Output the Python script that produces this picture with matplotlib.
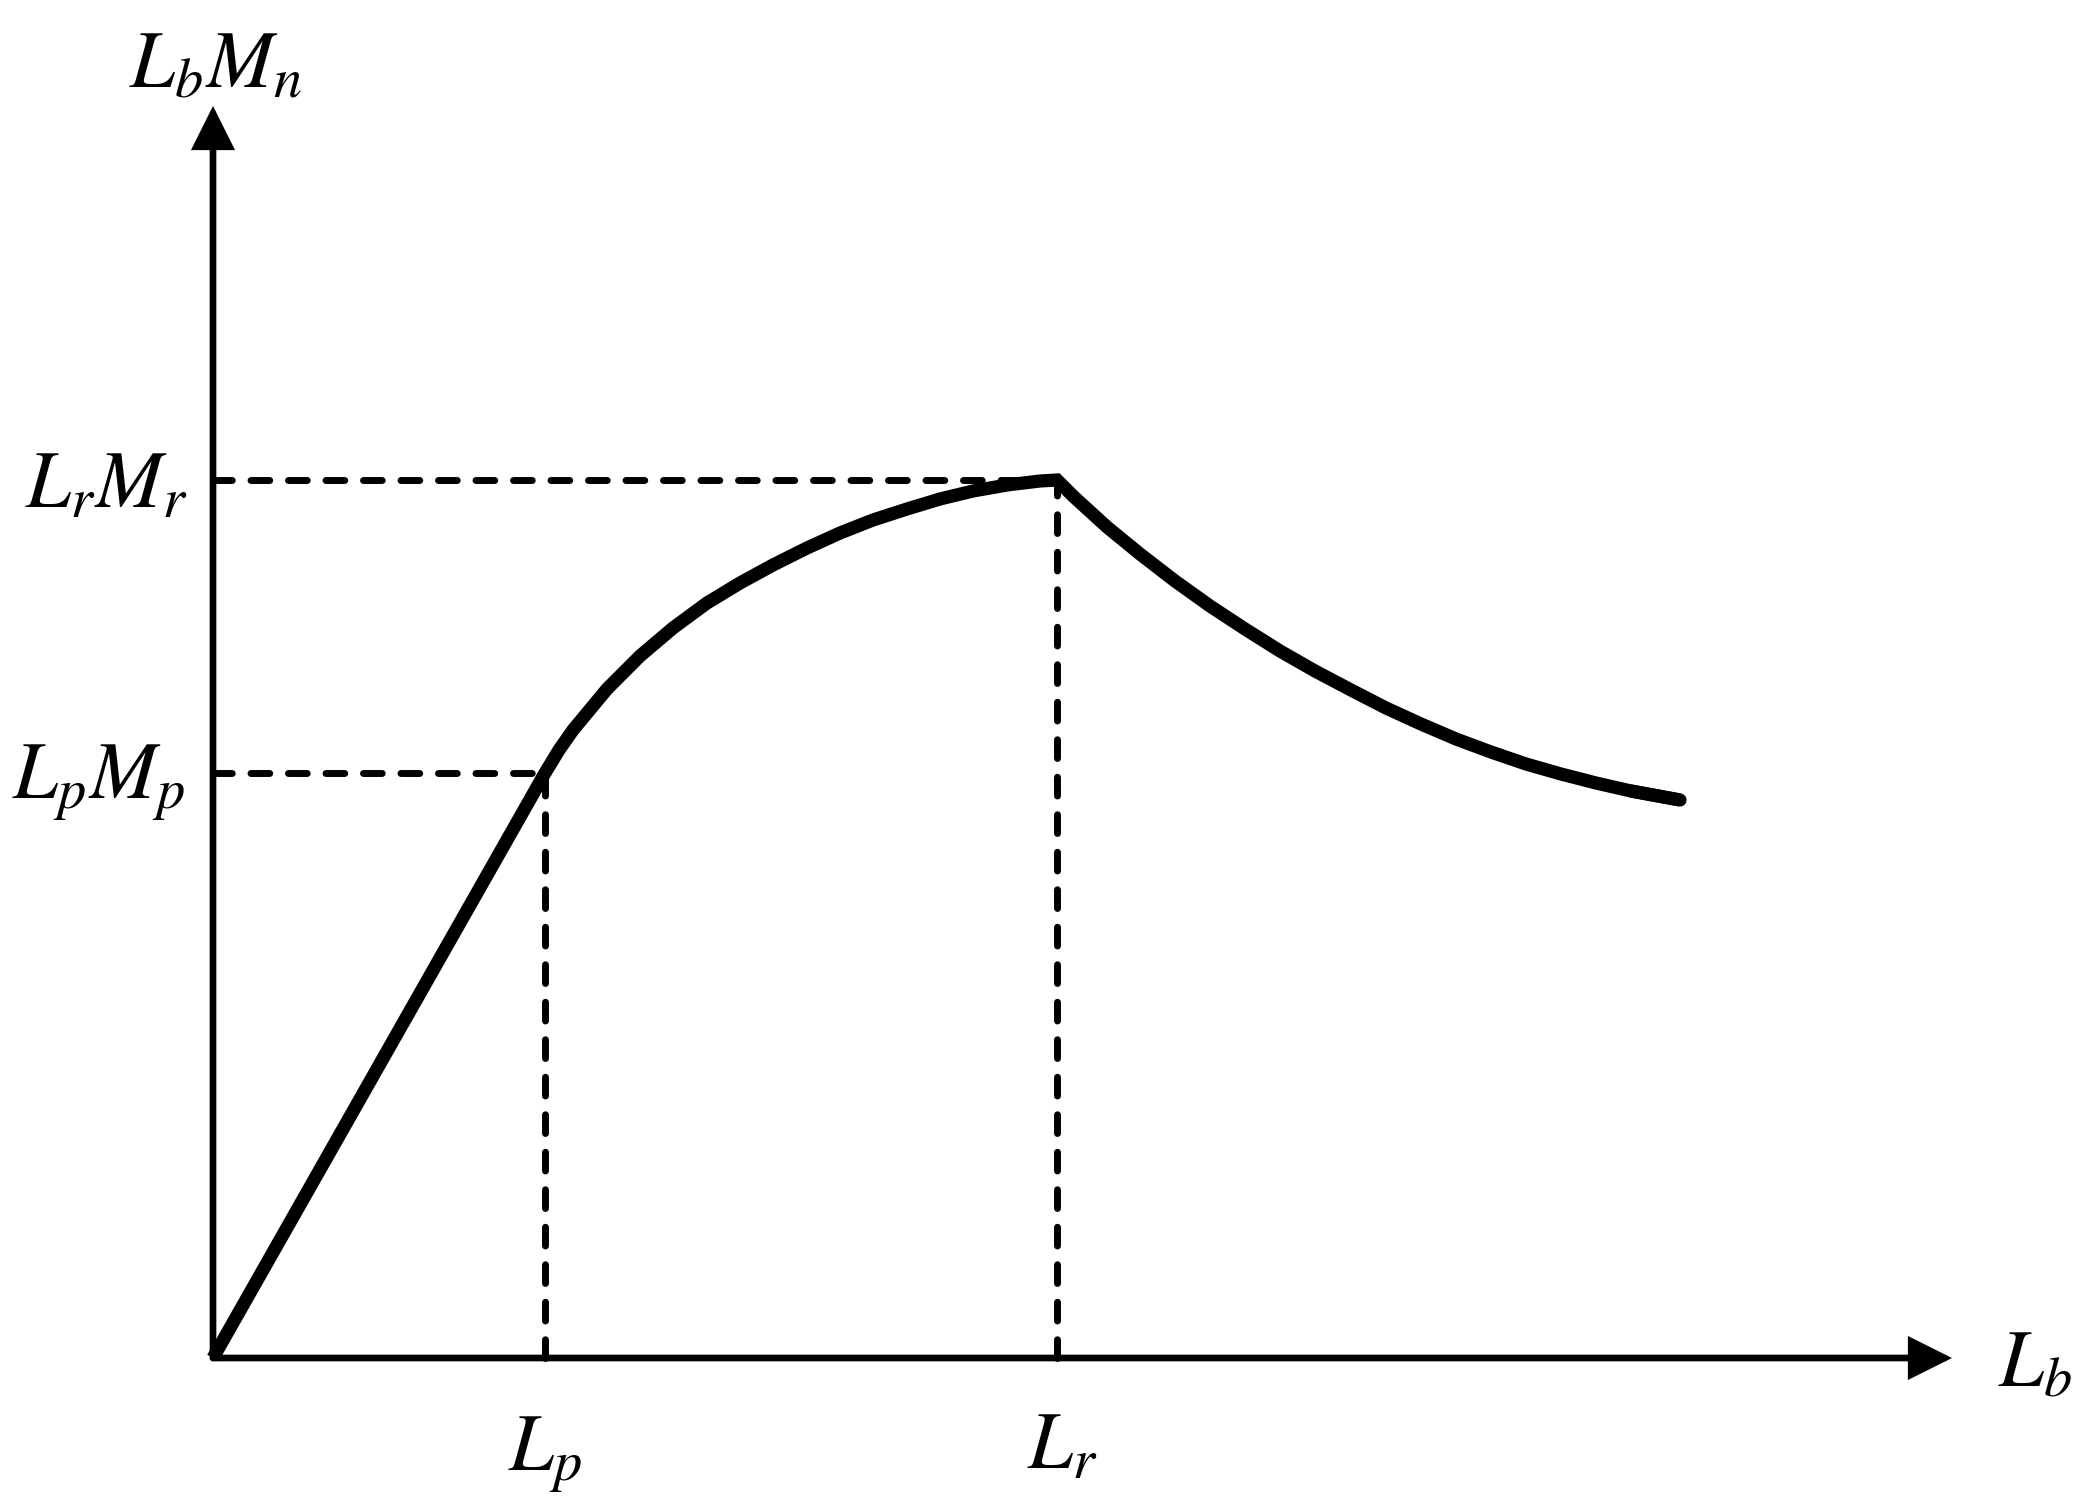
import numpy as np
import matplotlib
matplotlib.use("Agg")
import matplotlib.pyplot as plt

plt.rcParams['mathtext.fontset'] = 'stix'

# characteristic points (arbitrary units)
Lp, LpMp = 3.32, 5.85
Lr, LrMr = 8.44, 8.78

# linear part: origin to Lp
x_lin = [0.0, 3.32]
y_lin = [0.0, 5.85]

# rising curve Lp -> Lr
x_up = [3.32, 3.46, 3.60, 3.94, 4.27, 4.60, 4.94, 5.27, 5.60, 5.94,
        6.27, 6.60, 6.94, 7.27, 7.60, 7.94, 8.27, 8.44]
y_up = [5.85, 6.08, 6.28, 6.69, 7.02, 7.30, 7.55, 7.75, 7.93, 8.10,
        8.25, 8.38, 8.49, 8.59, 8.67, 8.73, 8.77, 8.78]

# falling curve after Lr
x_down = [8.44, 8.60, 8.94, 9.27, 9.62, 9.97, 10.32, 10.67, 11.02,
          11.38, 11.73, 12.08, 12.43, 12.78, 13.13, 13.48, 13.83,
          14.18, 14.67]
y_down = [8.78, 8.62, 8.31, 8.04, 7.77, 7.52, 7.29, 7.07, 6.87,
          6.68, 6.50, 6.34, 6.19, 6.06, 5.94, 5.84, 5.75,
          5.67, 5.58]

x_axis_end = 17.39
y_axis_end = 12.52

fig = plt.figure(figsize=(20.84, 15.10), dpi=100)
ax = fig.add_axes([0, 0, 1, 1])
ax.set_xlim(-2.13, 18.71)
ax.set_ylim(-1.52, 13.58)
ax.axis('off')

# dashed guide lines
dash = dict(color='k', lw=5, dashes=(2.7, 2.7), dash_capstyle='round')
ax.plot([0, Lp], [LpMp, LpMp], **dash)
ax.plot([Lp, Lp], [0, LpMp], **dash)
ax.plot([0, Lr], [LrMr, LrMr], **dash)
ax.plot([Lr, Lr], [0, LrMr], **dash)

# axes with arrows
arr = dict(arrowstyle='-|>,head_length=2.4,head_width=1.2', color='k',
           lw=4.8, shrinkA=0, shrinkB=0, mutation_scale=10,
           joinstyle='miter')
ax.annotate('', xy=(x_axis_end, 0), xytext=(0, 0), arrowprops=arr)
ax.annotate('', xy=(0, y_axis_end), xytext=(0, 0), arrowprops=arr)

# moment curve
xs = x_lin + x_up[1:] + x_down[1:]
ys = y_lin + y_up[1:] + y_down[1:]
ax.plot(xs, ys, color='k', lw=9.5, solid_joinstyle='miter',
        solid_capstyle='butt')
# rounded end at the far right
ax.plot(x_down[-2:], y_down[-2:], color='k', lw=9.5, solid_capstyle='round')

fs = 58
ax.text(0.02, 12.70, r'$L_bM_n$', fontsize=fs, ha='center', va='baseline')
ax.text(-0.25, 8.51, r'$L_rM_r$', fontsize=fs, ha='right', va='baseline')
ax.text(-0.28, 5.60, r'$L_pM_p$', fontsize=fs, ha='right', va='baseline')
ax.text(Lp, -1.12, r'$L_p$', fontsize=fs, ha='center', va='baseline')
ax.text(Lr + 0.05, -1.10, r'$L_r$', fontsize=fs, ha='center', va='baseline')
ax.text(17.85, -0.29, r'$L_b$', fontsize=fs, ha='left', va='baseline')

fig.savefig('out.png', dpi=100)
